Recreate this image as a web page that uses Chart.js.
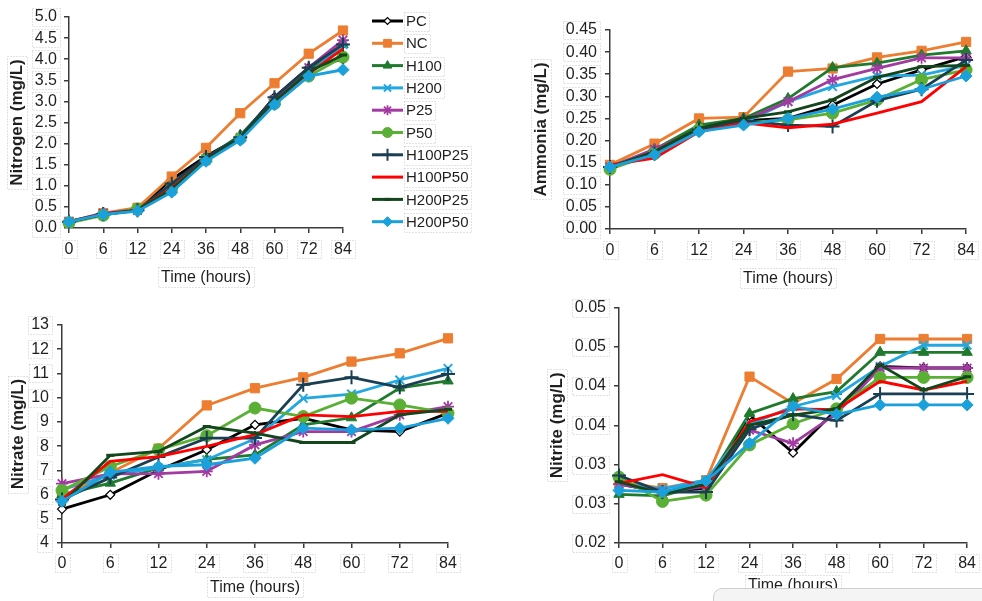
<!DOCTYPE html>
<html>
<head>
<meta charset="utf-8">
<script src="https://cdn.jsdelivr.net/npm/chart.js@4.4.0/dist/chart.umd.min.js"></script>
<style>
  body { margin: 0; background: #fff; width: 982px; height: 601px; overflow: hidden; position: relative; }
  canvas { position: absolute; }
  #nitrogenChart { left: 0; top: 0; }
  #ammoniaChart { left: 520px; top: 0; }
  #nitrateChart { left: 0; top: 290px; }
  #nitriteChart { left: 520px; top: 290px; }
  .tab { position: absolute; left: 713px; top: 588px; width: 290px; height: 30px;
         border: 1px solid #cfcfcf; border-radius: 9px; background: #f4f4f4; }
</style>
</head>
<body>
<canvas id="nitrogenChart" width="480" height="300"></canvas>
<canvas id="ammoniaChart" width="462" height="300"></canvas>
<canvas id="nitrateChart" width="480" height="311"></canvas>
<canvas id="nitriteChart" width="462" height="311"></canvas>
<div class="tab"></div>
<script>
// x categories (hours) and series names
const timeLabels = ['0', '6', '12', '24', '36', '48', '60', '72', '84']
const seriesNames = ['PC', 'NC', 'H100', 'H200', 'P25', 'P50', 'H100P25', 'H100P50', 'H200P25', 'H200P50']

// values per series, same order as seriesNames
const nitrogenValues = [
    [0.15, 0.33, 0.45, 1.15, 1.70, 2.15, 3.10, 3.80, 4.00], // PC
    [0.15, 0.35, 0.48, 1.22, 1.90, 2.72, 3.43, 4.13, 4.68], // NC
    [0.15, 0.32, 0.45, 0.98, 1.65, 2.20, 3.05, 3.75, 4.35], // H100
    [0.15, 0.33, 0.42, 0.88, 1.60, 2.12, 2.95, 3.65, 4.35], // H200
    [0.15, 0.35, 0.42, 0.95, 1.65, 2.15, 3.05, 3.80, 4.45], // P25
    [0.12, 0.30, 0.45, 0.95, 1.62, 2.12, 2.95, 3.60, 4.05], // P50
    [0.15, 0.33, 0.42, 1.05, 1.68, 2.15, 3.10, 3.80, 4.35], // H100P25
    [0.15, 0.33, 0.42, 0.95, 1.62, 2.10, 3.00, 3.65, 4.25], // H100P50
    [0.15, 0.32, 0.42, 0.92, 1.62, 2.12, 3.00, 3.70, 4.10], // H200P25
    [0.15, 0.32, 0.40, 0.85, 1.58, 2.08, 2.92, 3.60, 3.75]  // H200P50
]

const ammoniaValues = [
    [0.140, 0.175, 0.225, 0.245, 0.250, 0.280, 0.328, 0.360, 0.390],
    [0.145, 0.193, 0.250, 0.253, 0.356, 0.363, 0.388, 0.403, 0.423],
    [0.140, 0.180, 0.235, 0.250, 0.295, 0.365, 0.375, 0.393, 0.403],
    [0.140, 0.175, 0.225, 0.240, 0.288, 0.322, 0.346, 0.348, 0.370],
    [0.140, 0.180, 0.225, 0.245, 0.288, 0.338, 0.363, 0.387, 0.387],
    [0.135, 0.170, 0.225, 0.240, 0.247, 0.262, 0.292, 0.338, 0.360],
    [0.140, 0.170, 0.225, 0.245, 0.235, 0.232, 0.290, 0.316, 0.382],
    [0.145, 0.160, 0.220, 0.240, 0.229, 0.237, 0.262, 0.288, 0.367],
    [0.140, 0.175, 0.228, 0.250, 0.265, 0.292, 0.343, 0.367, 0.370],
    [0.140, 0.168, 0.220, 0.235, 0.250, 0.271, 0.298, 0.316, 0.346]
]

const nitrateValues = [
    [5.40, 5.99, 7.00, 7.85, 8.88, 9.15, 8.67, 8.60, 9.36],
    [5.90, 6.90, 7.90, 9.68, 10.39, 10.84, 11.49, 11.83, 12.45],
    [6.00, 6.47, 7.10, 7.45, 7.64, 8.88, 9.17, 10.40, 10.69],
    [6.20, 6.80, 7.10, 7.44, 8.30, 9.97, 10.15, 10.73, 11.21],
    [6.45, 6.85, 6.86, 6.96, 8.05, 8.60, 8.60, 9.29, 9.63],
    [6.17, 7.16, 7.85, 8.43, 9.57, 9.22, 9.98, 9.70, 9.36],
    [5.80, 6.70, 7.55, 8.33, 8.33, 10.53, 10.84, 10.43, 10.98],
    [5.80, 7.37, 7.57, 7.99, 8.47, 9.29, 9.22, 9.43, 9.43],
    [5.60, 7.62, 7.78, 8.81, 8.54, 8.15, 8.15, 9.29, 9.52],
    [5.72, 6.92, 7.16, 7.23, 7.50, 8.74, 8.67, 8.74, 9.15]
]

const nitriteValues = [
    [0.0275, 0.0265, 0.0270, 0.0363, 0.0315, 0.0370, 0.0425, 0.0423, 0.0423],
    [0.0278, 0.0270, 0.0280, 0.0412, 0.0378, 0.0409, 0.0460, 0.0460, 0.0460],
    [0.0262, 0.0260, 0.0275, 0.0365, 0.0384, 0.0393, 0.0443, 0.0443, 0.0443],
    [0.0275, 0.0269, 0.0280, 0.0351, 0.0374, 0.0388, 0.0425, 0.0452, 0.0452],
    [0.0275, 0.0265, 0.0272, 0.0344, 0.0327, 0.0365, 0.0423, 0.0423, 0.0423],
    [0.0284, 0.0253, 0.0261, 0.0325, 0.0352, 0.0371, 0.0411, 0.0411, 0.0411],
    [0.0286, 0.0265, 0.0265, 0.0345, 0.0364, 0.0356, 0.0390, 0.0390, 0.0390],
    [0.0276, 0.0287, 0.0271, 0.0355, 0.0371, 0.0370, 0.0406, 0.0395, 0.0406],
    [0.0278, 0.0263, 0.0275, 0.0350, 0.0363, 0.0371, 0.0427, 0.0395, 0.0412],
    [0.0267, 0.0265, 0.0279, 0.0327, 0.0374, 0.0364, 0.0376, 0.0376, 0.0376]
]

// the nitrite axis shows its half steps rounded to two decimals
const nitriteTickLabels = ['0.02', '0.03', '0.03', '0.04', '0.04', '0.05', '0.05']

// styles
const lineColors = ['#000000', '#ED7D31', '#1F7A2E', '#22A7E0', '#A23BA1', '#5AAF35', '#1B3F52', '#FF0000', '#13461C', '#1AA1DC']
const pointStyles = ['rectRot', 'rect', 'triangle', 'crossRot', 'star', 'circle', 'cross', 'circle', 'line', 'rectRot']
const pointRadii = [4.5, 6.5, 6, 6, 6, 6, 7, 0, 4, 6]
const pointFills = ['#ffffff', '#ED7D31', '#1F7A2E', '#22A7E0', '#A23BA1', '#5AAF35', '#1B3F52', '#FF0000', '#13461C', '#1AA1DC']
const pointBorders = [1.2, 1, 1, 2, 1.8, 1, 2, 1, 3, 1]

const FONT = '"Liberation Sans", Arial, sans-serif'
const TEXT = '#1f1f1f'
const AXIS = '#3a3a3a'

function buildDatasets(values) {
    return values.map((vals, i) => ({
        label: seriesNames[i],
        data: vals,
        borderColor: lineColors[i],
        borderWidth: 2.8,
        pointStyle: pointStyles[i],
        pointRadius: pointRadii[i],
        pointHoverRadius: pointRadii[i],
        pointBackgroundColor: pointFills[i],
        pointBorderColor: lineColors[i],
        pointBorderWidth: pointBorders[i],
        tension: 0,
        fill: false,
        order: 10 - i // later series on top, like the original
    }))
}

// faint dotted boxes around tick labels and titles, as in the picture
const labelBoxes = {
    id: 'labelBoxes',
    afterDraw(chart) {
        const ctx = chart.ctx
        const area = chart.chartArea
        const ys = chart.scales.y
        const xs = chart.scales.x
        ctx.save()
        ctx.strokeStyle = '#c4c4c4'
        ctx.lineWidth = 1
        ctx.setLineDash([1, 2])
        ctx.font = '16px ' + FONT
        ys.ticks.forEach((t, i) => {
            const w = ctx.measureText(t.label).width
            const right = area.left - 5 - ys.options.ticks.padding
            const cy = ys.getPixelForTick(i)
            ctx.strokeRect(Math.round(right - w - 3) + 0.5, Math.round(cy - 9) + 0.5, Math.round(w + 6), 18)
        })
        xs.ticks.forEach((t, i) => {
            const w = ctx.measureText(t.label).width
            const cx = xs.getPixelForTick(i)
            const cy = area.bottom + 5 + xs.options.ticks.padding + 9
            ctx.strokeRect(Math.round(cx - w / 2 - 3) + 0.5, Math.round(cy - 9) + 0.5, Math.round(w + 6), 18)
        })
        // x title
        const xt = xs.options.title
        const xw = ctx.measureText(xt.text).width
        const xcy = xs.bottom - xt.padding.bottom - 9.6
        ctx.strokeRect(Math.round((area.left + area.right) / 2 - xw / 2 - 3) + 0.5, Math.round(xcy - 10) + 0.5, Math.round(xw + 6), 20)
        // y title
        const yt = ys.options.title
        ctx.font = 'bold 17px ' + FONT
        const yw = ctx.measureText(yt.text).width
        const ycx = ys.left + yt.padding.top + 10.2
        const ycy = (area.top + area.bottom) / 2
        ctx.strokeRect(Math.round(ycx - 10) + 0.5, Math.round(ycy - yw / 2 - 3) + 0.5, 20, Math.round(yw + 6))
        ctx.restore()
    }
}

// legend drawn beside the first chart: line sample with its marker
const sideLegend = {
    id: 'sideLegend',
    afterDraw(chart) {
        const ctx = chart.ctx
        ctx.save()
        seriesNames.forEach((name, i) => {
            const y = 21 + i * 22.3
            ctx.strokeStyle = lineColors[i]
            ctx.lineWidth = 3
            ctx.beginPath()
            ctx.moveTo(372, y)
            ctx.lineTo(403, y)
            ctx.stroke()
            if (pointRadii[i] > 0 && Chart.helpers && Chart.helpers.drawPoint) {
                ctx.fillStyle = pointFills[i]
                ctx.lineWidth = pointBorders[i]
                Chart.helpers.drawPoint(ctx, {
                    pointStyle: pointStyles[i],
                    radius: pointRadii[i] - 1,
                    rotation: 0,
                    borderWidth: pointBorders[i]
                }, 387.5, y)
            }
            ctx.fillStyle = TEXT
            ctx.font = '15px ' + FONT
            ctx.textBaseline = 'middle'
            ctx.fillText(name, 406, y + 1)
            const w = ctx.measureText(name).width
            ctx.strokeStyle = '#c4c4c4'
            ctx.lineWidth = 1
            ctx.setLineDash([1, 2])
            ctx.strokeRect(404.5, Math.round(y - 9) + 0.5, Math.round(w + 4), 19)
            ctx.setLineDash([])
        })
        ctx.restore()
    }
}

function makePanel(canvasId, values, p) {
    const ctx = document.getElementById(canvasId).getContext('2d')
    const plugins = [labelBoxes]
    if (p.legend) plugins.push(sideLegend)
    return new Chart(ctx, {
        type: 'line',
        data: { labels: timeLabels, datasets: buildDatasets(values) },
        plugins: plugins,
        options: {
            responsive: false,
            animation: false,
            events: [],
            layout: { padding: p.padding },
            plugins: { legend: { display: false }, tooltip: { enabled: false } },
            scales: {
                x: {
                    type: 'category',
                    offset: false,
                    afterFit: s => { s.height = p.xHeight },
                    grid: { offset: false, drawOnChartArea: false, drawTicks: true, tickLength: 5, color: AXIS, lineWidth: 1.5 },
                    border: { color: AXIS, width: 1.5 },
                    ticks: { color: TEXT, font: { family: FONT, size: 16 }, padding: p.xTickPad, maxRotation: 0, autoSkip: false },
                    title: { display: true, text: 'Time (hours)', color: TEXT, font: { family: FONT, size: 16 }, padding: { top: 0, bottom: p.xTitlePad } }
                },
                y: {
                    min: p.min,
                    max: p.max,
                    afterFit: s => { s.width = p.yWidth },
                    grid: { drawOnChartArea: false, drawTicks: true, tickLength: 5, color: AXIS, lineWidth: 1.5 },
                    border: { color: AXIS, width: 1.5 },
                    ticks: { stepSize: p.step, autoSkip: false, color: TEXT, font: { family: FONT, size: 16 }, padding: p.yTickPad, callback: p.fmt },
                    title: { display: true, text: p.yTitle, color: TEXT, font: { family: FONT, size: 17, weight: 'bold' }, padding: { top: p.yTitlePad, bottom: 0 } }
                }
            }
        }
    })
}

makePanel('nitrogenChart', nitrogenValues, {
    yTitle: 'Nitrogen (mg/L)', min: 0, max: 5, step: 0.5, fmt: v => v.toFixed(1),
    yWidth: 69, yTitlePad: 7, yTickPad: 7, xHeight: 62, xTickPad: 7, xTitlePad: 3,
    padding: { left: 0, top: 17, right: 137, bottom: 10 }, legend: true
})

makePanel('ammoniaChart', ammoniaValues, {
    yTitle: 'Ammonia (mg/L)', min: 0, max: 0.45, step: 0.05, fmt: v => v.toFixed(2),
    yWidth: 90, yTitlePad: 11, yTickPad: 8, xHeight: 62, xTickPad: 7, xTitlePad: 3,
    padding: { left: 0, top: 30, right: 14, bottom: 9 }
})

makePanel('nitrateChart', nitrateValues, {
    yTitle: 'Nitrate (mg/L)', min: 4, max: 13, step: 1, fmt: v => v.toFixed(0),
    yWidth: 62, yTitlePad: 8, yTickPad: 8, xHeight: 55, xTickPad: 6, xTitlePad: 1,
    padding: { left: 0, top: 35, right: 32, bottom: 3 }
})

makePanel('nitriteChart', nitriteValues, {
    yTitle: 'Nitrite (mg/L)', min: 0.02, max: 0.05, step: 0.005, fmt: (v, i) => nitriteTickLabels[i],
    yWidth: 99, yTitlePad: 27, yTickPad: 8, xHeight: 53, xTickPad: 6, xTitlePad: 1,
    padding: { left: 0, top: 15, right: 13, bottom: 5 }
})
</script>
</body>
</html>
